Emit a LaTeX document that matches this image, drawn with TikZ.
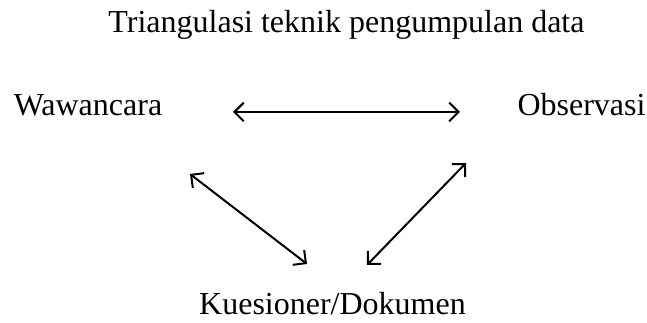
\documentclass[tikz,border=0pt]{standalone}
\usepackage{fontspec}
\setmainfont{Liberation Serif}
\usetikzlibrary{arrows.meta}
\begin{document}
\begin{tikzpicture}[x=0.75pt,y=-0.75pt,
  lbl/.style={inner sep=0pt,anchor=base,font=\fontsize{24}{28}\selectfont},
  link/.style={line width=1.5pt,{Straight Barb[length=7pt,width=14pt,line width=1.5pt]}-{Straight Barb[length=7pt,width=14pt,line width=1.5pt]}}]
\useasboundingbox (0,0) rectangle (647,323);
\node[lbl] (title) at (346.5,33) {Triangulasi teknik pengumpulan data};
\node[lbl] (wa) at (88,116) {Wawancara};
\node[lbl] (ob) at (581.5,116) {Observasi};
\node[lbl] (ku) at (332.5,315) {Kuesioner/Dokumen};
\coordinate (h1) at (233,112);
\coordinate (h2) at (460,112);
\coordinate (l1) at (190,174);
\coordinate (l2) at (307,264);
\coordinate (r1) at (466,163);
\coordinate (r2) at (367,265);
\draw[link] (h1) -- (h2);
\draw[link] (l1) -- (l2);
\draw[link] (r1) -- (r2);
\end{tikzpicture}
\end{document}
